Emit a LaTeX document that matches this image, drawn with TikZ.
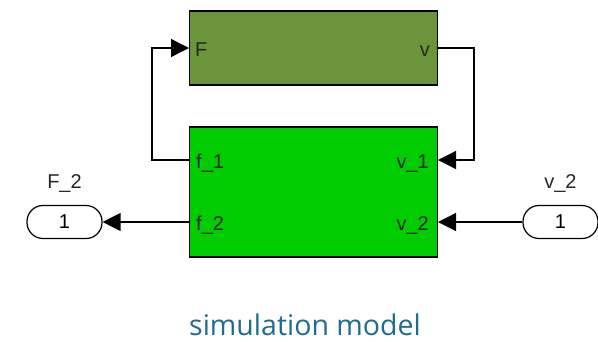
\documentclass[tikz,border=0pt]{standalone}
\usepackage{fontspec}
\setmainfont{Liberation Sans}
\newfontfamily\capfont{Open Sans}
\usetikzlibrary{arrows.meta}
\definecolor{topgreen}{HTML}{6A953B}
\definecolor{botgreen}{HTML}{00CC00}
\definecolor{capblue}{HTML}{1E6C8E}
\begin{document}
\begin{tikzpicture}[x=1pt,y=-1pt,
  blk/.style={draw=black, line width=1.3pt, minimum width=248pt, inner sep=0pt},
  port/.style={font=\fontsize{20}{22}\selectfont, text=black!85, inner sep=0pt},
  io/.style={draw=black, line width=1.2pt, rounded corners=16pt, minimum width=75pt, minimum height=33pt, inner sep=0pt, font=\fontsize{20}{22}\selectfont},
  wire/.style={draw=black, line width=1.3pt, -{Triangle[length=18pt,width=18pt]}},
  lbl/.style={font=\fontsize{20}{22}\selectfont, text=black!85, inner sep=0pt}]
\useasboundingbox (0,0) rectangle (598,341);
\node[blk, fill=topgreen, minimum height=74pt] (top) at (313.5,48) {};
\node[blk, fill=botgreen, minimum height=130pt] (bot) at (313.5,192) {};
\node[port, anchor=base west] (pF) at (195,56.5) {F};
\node[port, anchor=base east] (pv) at (430,56.5) {v};
\node[port, anchor=base west] (pf1) at (196,168) {f\_1};
\node[port, anchor=base west] (pf2) at (196,230) {f\_2};
\node[port, anchor=base east] (pv1) at (429,168) {v\_1};
\node[port, anchor=base east] (pv2) at (429,230) {v\_2};
\coordinate (topin) at (189,48);
\coordinate (topout) at (438,48);
\coordinate (bin1) at (189,160);
\coordinate (bin2) at (189,222);
\coordinate (bout1) at (438,160);
\coordinate (bout2) at (438,222);
\node[io] (F2) at (64.5,222) {1};
\node[io] (V2) at (560.5,222) {1};
\node[lbl, anchor=base] (F2l) at (64.5,188) {F\_2};
\node[lbl, anchor=base] (V2l) at (560.5,188) {v\_2};
\draw[wire] (bin1) -| (152,48) -- (topin);
\draw[wire] (topout) -| (474,160) -- (bout1);
\draw[wire] (bin2) -- (F2.east);
\draw[wire] (V2.west) -- (bout2);
\node[font=\capfont\fontsize{28.5}{32}\selectfont, text=capblue, anchor=base, inner sep=0pt] (cap) at (305,335.5) {simulation model};
\end{tikzpicture}
\end{document}
